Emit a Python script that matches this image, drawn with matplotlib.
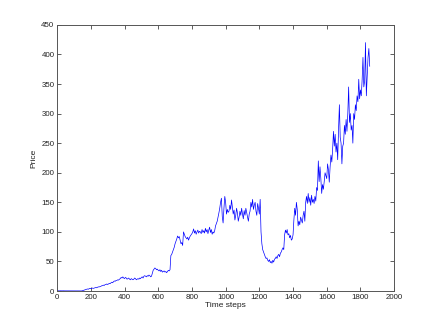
import numpy as np
from matplotlib import pyplot as plt

# price, one value every 5 time steps
step = 5

price_early = [  # t = 0 .. 645
    0.5, 0.4, 0.4, 0.3, 0.4, 0.3, 0.3, 0.4, 0.3, 0.3,
    0.3, 0.2, 0.3, 0.3, 0.2, 0.3, 0.2, 0.2, 0.3, 0.2,
    0.2, 0.2, 0.3, 0.2, 0.2, 0.2, 0.2, 0.3, 0.2, 0.2,
    0.5, 1.0, 1.5, 2.0, 2.5, 3.0, 3.5, 3.0, 4.0, 4.5,
    4.0, 4.5, 5.0, 4.5, 5.0, 5.5, 6.0, 5.5, 6.5, 7.0,
    7.0, 7.5, 8.0, 9.0, 9.0, 10.0, 9.5, 11.0, 11.0, 12.0,
    11, 12, 13, 12.5, 14, 15, 14, 16, 17, 16.5,
    18, 18, 19, 18.5, 20, 21, 23, 22, 24, 22,
    21, 23, 22, 20, 21, 22, 20, 19, 21, 20,
    19, 20, 22, 21, 19, 20, 21, 20, 22, 21,
    23, 24, 22, 25, 26, 25, 24, 26, 25, 27,
    26, 24, 25, 30, 35, 37, 39, 38, 36, 37,
    35, 34, 36, 33, 35, 32, 33, 34, 32, 33,
]

price_mid = [  # t = 650 .. 1245
    31, 33, 35, 34, 36, 60, 62, 66, 70, 74,
    80, 84, 88, 93, 90, 92, 86, 80, 82, 77,
    100, 96, 92, 90, 88, 91, 86, 90, 93, 95,
    97, 100, 105, 98, 102, 96, 100, 103, 98, 101,
    100, 97, 104, 99, 102, 98, 106, 100, 104, 97,
    103, 108, 99, 104, 96, 100, 98, 102, 110, 114,
    118, 125, 132, 140, 150, 157, 126, 115, 140, 160,
    150, 130, 138, 133, 135, 145, 138, 154, 142, 130,
    137, 120, 128, 140, 132, 118, 125, 135, 128, 140,
    130, 122, 136, 128, 140, 132, 125, 118, 130, 135,
    150, 142, 155, 138, 145, 150, 135, 128, 148, 140,
    130, 155, 100, 80, 70, 66, 62, 58, 55, 56,
]

price_late = [  # t = 1250 .. 1855
    52, 50, 53, 48, 50, 47, 52, 49, 54, 55,
    58, 55, 60, 62, 58, 64, 66, 70, 73, 70,
    95, 103, 98, 104, 95, 97, 90, 94, 86, 88,
    95, 120, 140, 128, 150, 138, 110, 118, 112, 125,
    120, 115, 128, 135, 118, 150, 160, 148, 165, 150,
    158, 145, 162, 150, 155, 148, 160, 152, 175, 170,
    220, 185, 210, 190, 165, 180, 172, 185, 200, 195,
    190, 215, 205, 184, 210, 230, 218, 240, 270, 245,
    265, 235, 250, 222, 272, 315, 260, 250, 215, 245,
    250, 280, 265, 290, 270, 300, 345, 285, 300, 272,
    280, 250, 300, 290, 315, 305, 330, 320, 358, 325,
    340, 330, 357, 395, 345, 355, 420, 330, 362, 395,
    410, 380,
]

x_ticks = list(range(0, 2001, 200))
y_ticks = list(range(0, 451, 50))

price = np.array(price_early + price_mid + price_late, dtype=float)
t = np.arange(len(price)) * step

plt.rcParams['font.family'] = ['Liberation Sans', 'DejaVu Sans']

fig = plt.figure(figsize=(4.36, 3.27), dpi=100)
ax = fig.add_axes([0.131, 0.110, 0.773, 0.814])

ax.plot(t, price, color='#0000ff', linewidth=0.5)

ax.set_xlim(0, 2000)
ax.set_ylim(0, 450)
ax.set_xticks(x_ticks)
ax.set_yticks(y_ticks)
ax.tick_params(direction='in', length=3, width=0.6, labelsize=5.7,
               top=True, right=True, colors='#444444', labelcolor='#222222', pad=2)
for s in ax.spines.values():
    s.set_color('#555555')
    s.set_linewidth(0.7)

ax.set_xlabel('Time steps', fontsize=6, color='#222222', labelpad=1)
ax.set_ylabel('Price', fontsize=6, color='#222222', labelpad=3)

fig.savefig('out.png', dpi=100)
